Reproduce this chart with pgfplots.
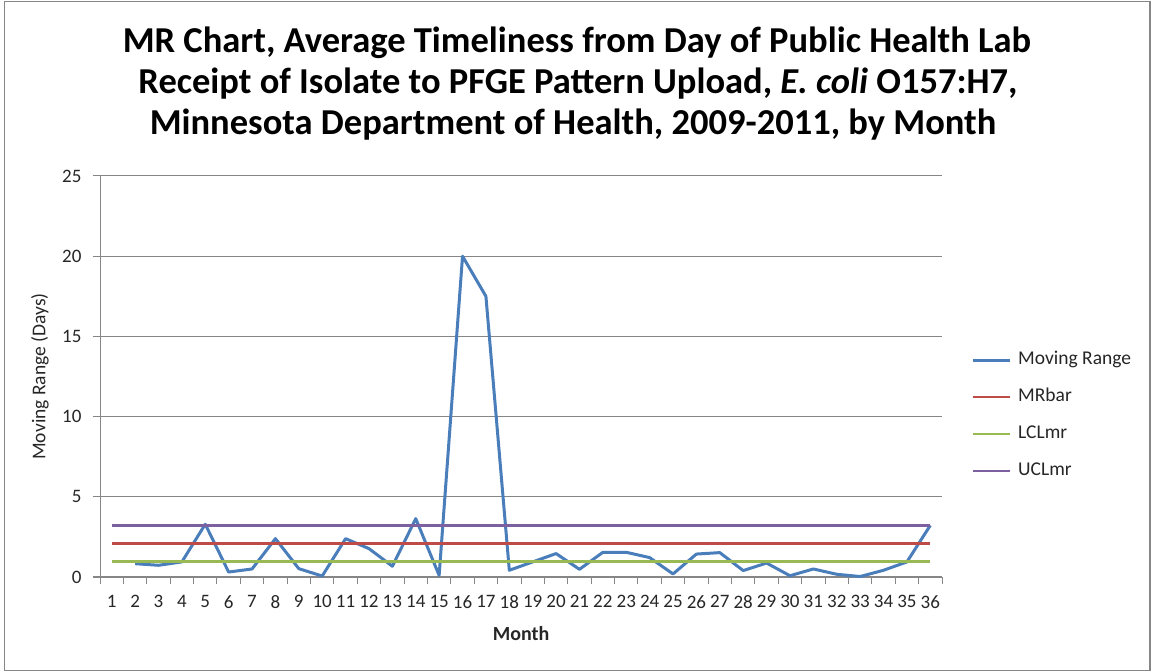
\documentclass[border=0pt]{standalone}
\usepackage{fontspec}
\setmainfont{Carlito}
\usepackage{pgfplots}
\pgfplotsset{compat=1.18}

\definecolor{mrblue}{HTML}{4A7EBB}
\definecolor{mrred}{HTML}{BE4B48}
\definecolor{mrgreen}{HTML}{98B954}
\definecolor{mrpurple}{HTML}{7D60A0}
\definecolor{gridgray}{HTML}{868686}
\definecolor{txt}{HTML}{262626}

% Moving range of the monthly average timeliness (days)
\pgfplotstableread{
month mr
2  0.83
3  0.73
4  0.94
5  3.29
6  0.31
7  0.50
8  2.39
9  0.52
10 0.06
11 2.39
12 1.77
13 0.67
14 3.64
15 0.10
16 20.0
17 17.5
18 0.42
19 0.94
20 1.46
21 0.48
22 1.54
23 1.54
24 1.21
25 0.19
26 1.43
27 1.52
28 0.40
29 0.87
30 0.08
31 0.50
32 0.17
33 0.03
34 0.42
35 0.94
36 3.22
}\mrdata

\begin{document}
\begin{tikzpicture}[x=1pt,y=1pt]
\useasboundingbox (0,0) rectangle (1154,672);
\draw[gridgray, line width=1.2pt] (4.5,1.5) rectangle (1150,670.5);

% Title
\begin{scope}[every node/.style={anchor=base, font=\fontsize{36.5}{40}\selectfont\bfseries, text=black}]
\node at (577,619) {MR Chart, Average Timeliness from Day of Public Health Lab};
\node at (578,578) {Receipt of Isolate to PFGE Pattern Upload, \textit{E. coli} O157:H7,};
\node at (573,537) {Minnesota Department of Health, 2009-2011, by Month};
\end{scope}

\begin{axis}[
  at={(100pt,95pt)}, anchor=south west,
  scale only axis, width=842pt, height=401pt,
  xmin=0.5, xmax=36.5, ymin=0, ymax=25,
  clip=false,
  axis x line*=bottom, axis y line*=left,
  axis line style={draw=gridgray, line width=1pt, -},
  ytick={0,5,10,15,20,25},
  ymajorgrids, grid style={gridgray, line width=1pt},
  xtick={0.5,1.5,...,36.5}, xticklabels={},
  extra x ticks={1,...,36},
  extra x tick style={major tick length=0pt, grid=none,
    tick label style={yshift=-15pt}},
  tick align=outside, major tick length=7pt,
  tick style={gridgray, line width=1pt},
  /pgf/number format/assume math mode=true,
  tick label style={font=\fontsize{19}{19}\selectfont, text=txt},
  yticklabel style={xshift=-8pt},
  xlabel={\textbf{Month}},
  ylabel={Moving Range  (Days)},
  every axis x label/.style={at={(axis description cs:0.5,-0.14)}, anchor=center, font=\fontsize{20}{20}\selectfont, text=txt},
  every axis y label/.style={at={(axis description cs:-0.0713,0.5)}, rotate=90, anchor=center, font=\fontsize{19.5}{19.5}\selectfont, text=txt},
  legend style={at={(axis description cs:1,0.4025)}, anchor=west, xshift=29pt,
    draw=none, fill=none, font=\fontsize{19.5}{19.5}\selectfont, text=txt,
    row sep=21pt, inner sep=0pt,
    nodes={inner sep=0pt, text height=12pt, text depth=4pt, anchor=west}},
  legend cell align=left,
  legend image code/.code={\draw[#1] (0pt,0pt) -- (37pt,0pt); \path (44pt,0pt);},
]
\addplot[mrblue, line width=3pt, line join=round] table[x=month, y=mr] {\mrdata};
\addlegendentry{Moving Range}
\addplot[mrred, line width=2.8pt] coordinates {(1,2.09) (36,2.09)};
\addlegendentry{MRbar}
\addplot[mrgreen, line width=2.8pt] coordinates {(1,0.97) (36,0.97)};
\addlegendentry{LCLmr}
\addplot[mrpurple, line width=2.8pt] coordinates {(1,3.19) (36,3.19)};
\addlegendentry{UCLmr}
\end{axis}
\end{tikzpicture}
\end{document}
